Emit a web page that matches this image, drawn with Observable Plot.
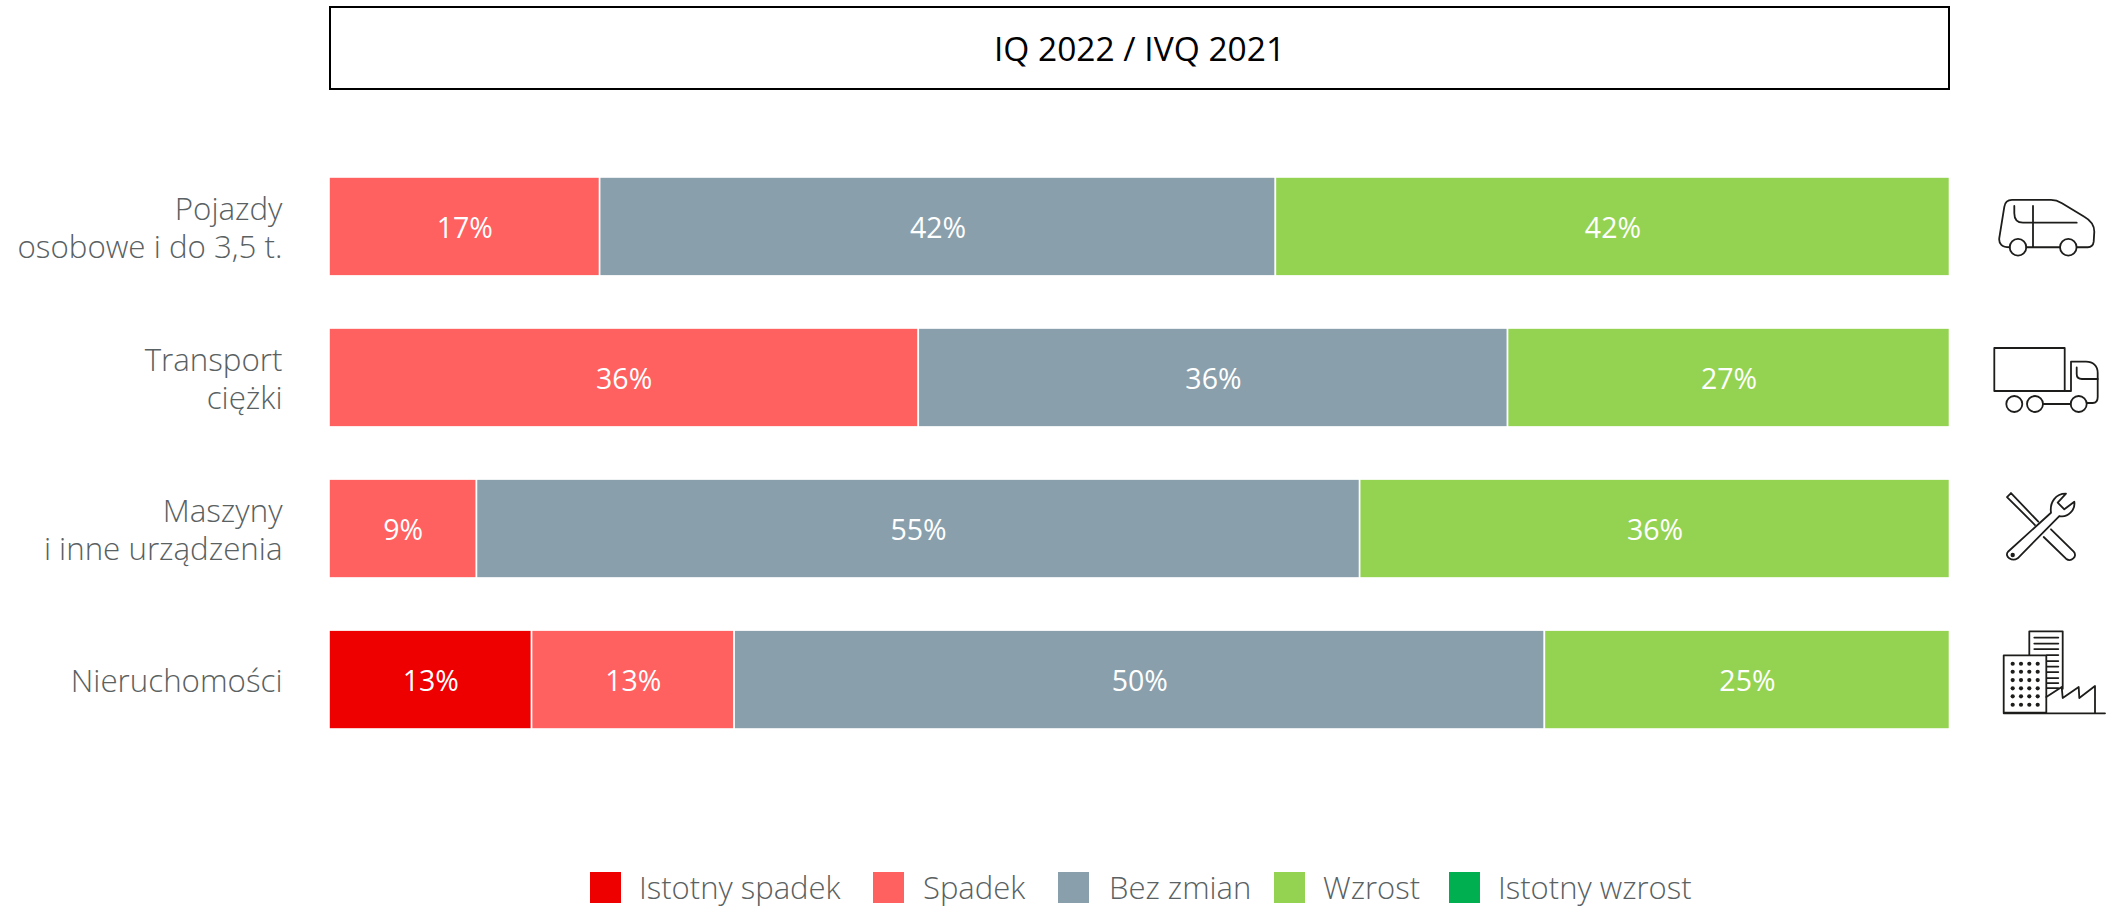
<!DOCTYPE html>
<html lang="pl"><head><meta charset="utf-8">
<script src="https://cdn.jsdelivr.net/npm/d3@7"></script>
<script src="https://cdn.jsdelivr.net/npm/@observablehq/plot@0.6"></script>
<style>
html,body{margin:0;padding:0;background:#fff;width:2109px;height:907px;overflow:hidden;font-family:"Open Sans",sans-serif}
#head{position:absolute;left:329px;top:6px;width:1621px;height:84px;box-sizing:border-box;border:2.5px solid #000;display:flex;align-items:center;justify-content:center;font-size:33.5px;color:#000}
#chart{position:absolute;left:0;top:90px}
#legend{position:absolute;left:0;top:872px;height:32px;width:2109px}
#legend span{position:absolute;top:0;height:31px;line-height:31px;font-size:31px;font-weight:300;color:#596162;white-space:nowrap}
#legend i{position:absolute;top:0;width:31px;height:31px}
</style></head><body>
<div id="head"></div><div id="chart"></div><div id="legend"></div>
<script>
const title = "IQ 2022 / IVQ 2021";
const categories = ["Pojazdy\nosobowe i do 3,5 t.", "Transport\nciężki", "Maszyny\ni inne urządzenia", "Nieruchomości"];
const seriesNames = ["Istotny spadek", "Spadek", "Bez zmian", "Wzrost", "Istotny wzrost"];
const seriesColors = ["#ee0000", "#ff6161", "#8a9fac", "#94d351", "#00b050"];
const istotnySpadek = [0, 0, 0, 12.5];
const spadek = [16.7, 36.4, 9.1, 12.5];
const bezZmian = [41.7, 36.4, 54.5, 50];
const wzrost = [41.6, 27.3, 36.4, 25];
const istotnyWzrost = [0, 0, 0, 0];
const legendSquares = [590, 873, 1058, 1274, 1449];
const legendTexts = [639, 923, 1109, 1323, 1498];

const ink = 'fill="none" stroke="#1d1d1b" stroke-width="1.8" stroke-linecap="round" stroke-linejoin="round"';
const wrap = b => "data:image/svg+xml;utf8," + encodeURIComponent(`<svg xmlns="http://www.w3.org/2000/svg" width="120" height="120" viewBox="0 0 120 120"><g ${ink}>${b}</g></svg>`);
const dots = [22.7,31,39.3,47.7].flatMap(x => [43.7,51.7,60,68.3,76.3,84.7].map(y => `<circle cx="${x}" cy="${y}" r="2.1" fill="#1d1d1b" stroke="none"/>`)).join("");
const floors = [[44.3,17.5],[44.3,23.5],[44.3,29],[57,35],[57,41],[57,46.5],[57,52],[57,58],[57,63],[57,68]].map(([x,y]) => `<path d="M${x} ${y}H68.3"/>`).join("");
const icons = [
  wrap(`<path d="M19.7 80.3C12 80.3 8.5 77 9.3 71L14.3 40C15 35 17 33 22 33H61C66 33 69 34.5 72 36.3L94.3 49.7C101 53.5 104.3 59 104.3 64.7L103.7 74.7C103.2 78.5 101 80.3 97.7 80.3H86.7"/><path d="M36.3 80.3H70M43 39V80.3M24.3 39V46.3C24.3 52.5 27 55.7 33 55.7H86.7"/><circle cx="28" cy="80.3" r="8.3"/><circle cx="78.3" cy="80.3" r="8.3"/>`),
  wrap(`<rect x="4.3" y="30" width="70.4" height="43"/><path d="M74.7 73H81V43.7H96C103 43.7 107.7 48 107.7 55V79C107.7 83 105.5 85 102.7 85H97"/><path d="M86.7 49.4V56C86.7 59.5 88.5 61 92 61H107.7M53 86H80.7"/><circle cx="24.3" cy="86" r="8"/><circle cx="45" cy="86" r="8"/><circle cx="88.7" cy="86" r="8"/>`),
  wrap(`<path d="M18 82.7L61 43.7C59.5 33 66 24.5 76 24.7L67.7 33.7L74.3 40.3L84.3 32.7C85.5 41 78 49 69.3 47L27.7 89.3C22 93 14 87.5 18 82.7Z"/><circle cx="22.7" cy="86" r="1.3" fill="#1d1d1b"/><path d="M48.3 52.7L21 24L17 28L45 56M61 60.3L83.7 82.7C88 87.5 81 93.5 76 89.7L53.7 68"/>`),
  wrap(`<path d="M39.3 34.7V11.3H72.7V68.7"/>${floors}<rect x="13.7" y="35.3" width="42.6" height="57.4"/>${dots}<path d="M56.3 77L71.7 67L72.7 78L88.7 67L89.3 78L105 66V92.7M13.7 93.3H115"/>`)
];

const rows = [[seriesNames[0], istotnySpadek], [seriesNames[1], spadek], [seriesNames[2], bezZmian], [seriesNames[3], wzrost], [seriesNames[4], istotnyWzrost]]
  .flatMap(([series, values]) => values.map((value, i) => ({series, category: categories[i], value})))
  .filter(d => d.value > 0);
const iconRows = categories.map((category, i) => ({category, src: icons[i]}));
const stack = o => Plot.stackX({x: "value", y: "category", z: "series", order: seriesNames, offset: "normalize", ...o});

const plot = Plot.plot({
  width: 2109, height: 660,
  marginLeft: 329, marginRight: 159.5, marginTop: 87, marginBottom: 21,
  style: {fontFamily: '"Open Sans", sans-serif', background: "transparent"},
  x: {domain: [0, 1], axis: null},
  y: {domain: categories, round: false, paddingInner: 0.345, paddingOuter: 0, label: null},
  color: {domain: seriesNames, range: seriesColors},
  marks: [
    Plot.barX(rows, stack({fill: "series", stroke: "#fff", strokeWidth: 1.6})),
    Plot.text(rows, stack({text: d => Math.round(d.value) + "%", fill: "#fff", fontSize: 28.5, fontWeight: 400, dy: 2})),
    Plot.axisY({tickSize: 0, tickPadding: 47, label: null, fontSize: 31.3, fontWeight: 300, color: "#596162", lineHeight: 1.22, tickFormat: d => d}),
    Plot.image(iconRows, {y: "category", src: "src", frameAnchor: "right", dx: 100, width: 120, height: 120})
  ]
});
document.getElementById("chart").append(plot);
document.getElementById("head").textContent = title;
const lg = d3.select("#legend");
seriesNames.forEach((s, i) => {
  lg.append("i").style("left", legendSquares[i] + "px").style("background", seriesColors[i]);
  lg.append("span").style("left", legendTexts[i] + "px").text(s);
});
</script></body></html>
